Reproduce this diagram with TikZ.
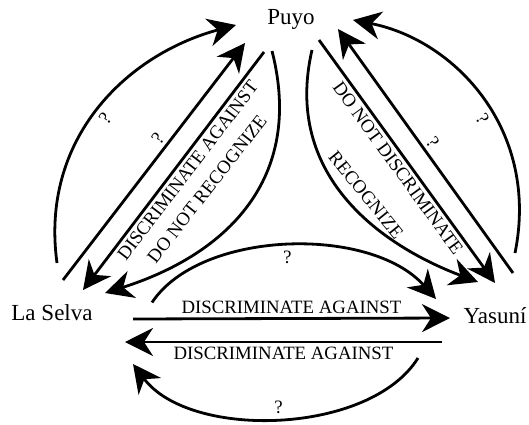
\documentclass[tikz,border=0pt]{standalone}
\usepackage{fontspec}
\setmainfont{Liberation Serif}
\usetikzlibrary{arrows.meta}

\tikzset{
  link/.style={line width=2.8pt,-{Stealth[length=28pt,width=28pt,inset=9pt]}},
  tag/.style={font=\fontsize{18.8}{22}\selectfont},
  lbl/.style={tag,sloped},
  place/.style={font=\fontsize{23}{27}\selectfont,anchor=base,inner sep=0pt}
}

\begin{document}
\begin{tikzpicture}[x=1pt,y=1pt]
	\useasboundingbox (0,0) rectangle (529,424);
	\node[place] (puyo) at (291,399) {Puyo};
	\node[place] (selva) at (52,104) {La Selva};
	\node[place] (yasuni) at (495,101) {Yasuní};

	% La Selva and Puyo
	\draw[link] ([shift={(5,57)}]selva.base) .. controls +(-17,123) and +(-111,-30) .. ([shift={(-55,0)}]puyo.base)
		node[lbl,pos=.49,below] {?};
	\draw[link] ([shift={(11,40)}]selva.base) -- ([shift={(-46,-18)}]puyo.base)
		node[lbl,pos=.57,above] {?};
	\draw[link] ([shift={(-27,-27)}]puyo.base) -- ([shift={(31,30)}]selva.base)
		node[lbl,pos=.47,below] {DISCRIMINATE AGAINST};
	\draw[link] ([shift={(-19,-26)}]puyo.base) .. controls +(33,-129) and +(120,38) .. ([shift={(53,27)}]selva.base);
	\node[tag,rotate=52] (norecog) at (207,235) {DO NOT RECOGNIZE};

	% Yasuni and Puyo
	\draw[link] ([shift={(20,70)}]yasuni.base) .. controls +(25,123) and +(102,-20) .. ([shift={(62,5)}]puyo.base)
		node[lbl,pos=.44,below] {?};
	\draw[link] ([shift={(18,50)}]yasuni.base) -- ([shift={(47,-4)}]puyo.base)
		node[lbl,pos=.51,above] {?};
	\draw[link] ([shift={(28,-15)}]puyo.base) -- ([shift={(0,40)}]yasuni.base)
		node[lbl,midway,below] {DO NOT DISCRIMINATE};
	\draw[link] ([shift={(21,-25)}]puyo.base) .. controls +(-29,-125) and +(-98,37) .. ([shift={(-17,41)}]yasuni.base);
	\node[tag,rotate=-51] (recog) at (366,229) {RECOGNIZE};

	% La Selva and Yasuni
	\draw[link] ([shift={(100,17.5)}]selva.base) .. controls +(48,72.5) and +(-66,74) .. ([shift={(-59,24)}]yasuni.base)
		node[lbl,pos=.5,below] {?};
	\draw[link] ([shift={(81,1)}]selva.base) -- ([shift={(-45,5)}]yasuni.base)
		node[lbl,midway,above] {DISCRIMINATE AGAINST};
	\draw[link] ([shift={(-53,-19)}]yasuni.base) -- ([shift={(73,-22)}]selva.base)
		node[lbl,midway,below] {DISCRIMINATE AGAINST};
	\draw[link] ([shift={(-77,-35)}]yasuni.base) .. controls +(-48,-77) and +(57,-76) .. ([shift={(81,-44)}]selva.base)
		node[lbl,pos=.5,above] {?};
\end{tikzpicture}
\end{document}
